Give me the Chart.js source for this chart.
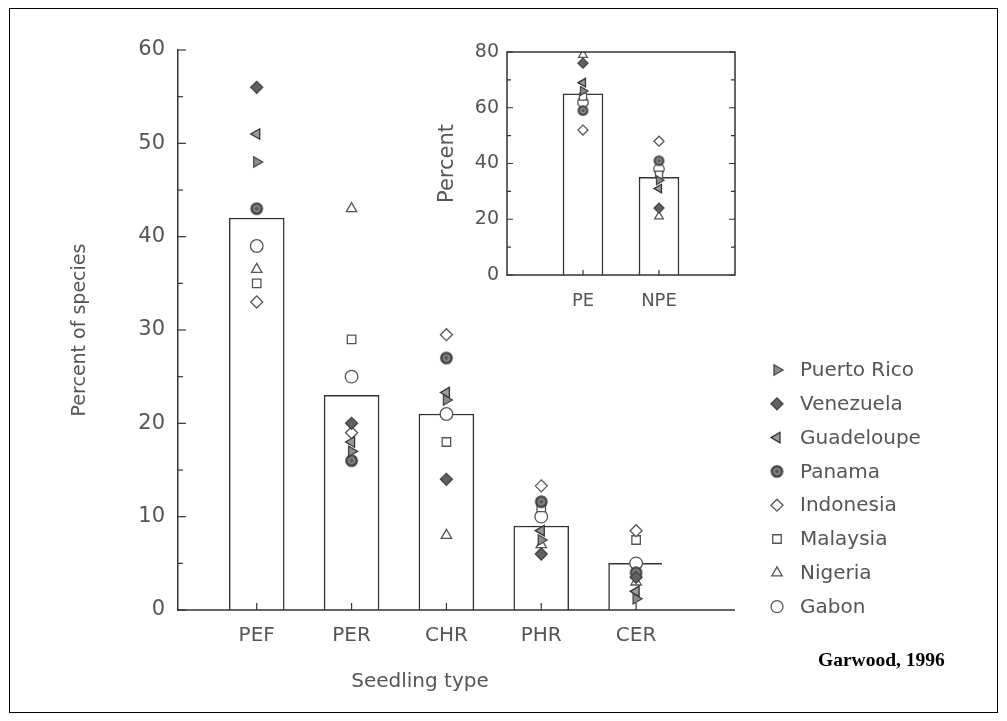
<!doctype html>
<html lang="en">
<head>
<meta charset="utf-8">
<title>Percent of species by seedling type</title>
<style>
  * { margin: 0; padding: 0; }
  body { width: 1007px; height: 721px; background: #fff; position: relative; overflow: hidden; }
  .frame { position: absolute; left: 9px; top: 8px; width: 987px; height: 703px; border: 1.5px solid #000; }
  #mainBox { position: absolute; left: 0; top: 0; width: 1007px; height: 721px; }
  #insetBox { position: absolute; left: 420px; top: 20px; width: 330px; height: 300px; }
  .credit { position: absolute; left: 818px; top: 649px; font: bold 19.5px 'Liberation Serif', serif; color: #000; }
</style>
</head>
<body>
<div class="frame"></div>
<div id="mainBox"><canvas id="mainChart"></canvas></div>
<div id="insetBox"><canvas id="insetChart"></canvas></div>
<div class="credit">Garwood, 1996</div>
<script src="https://cdn.jsdelivr.net/npm/chart.js/dist/chart.umd.min.js"></script>
<script>
// data
const categories = ['PEF', 'PER', 'CHR', 'PHR', 'CER'];
const meanPercent = [42, 23, 21, 9, 5];
const yTicks = [0, 10, 20, 30, 40, 50, 60];

const insetCategories = ['PE', 'NPE'];
const insetMean = [65, 35];
const insetTicks = [0, 20, 40, 60, 80];

const countries = ['Puerto Rico', 'Venezuela', 'Guadeloupe', 'Panama', 'Indonesia', 'Malaysia', 'Nigeria', 'Gabon'];

// PEF, PER, CHR, PHR, CER
const puertoRico = [48, 17, 22.5, 7.5, 1.2];
const venezuela  = [56, 20, 14, 6, 3.5];
const guadeloupe = [51, 18, 23.3, 8.5, 2];
const panama     = [43, 16, 27, 11.6, 4];
const indonesia  = [33, 19, 29.5, 13.3, 8.5];
const malaysia   = [35, 29, 18, 11, 7.5];
const nigeria    = [36.5, 43, 8, 7, 3];
const gabon      = [39, 25, 21, 10, 5];

// PE, NPE
const puertoRicoPE = [66, 34];
const venezuelaPE  = [76, 24];
const guadeloupePE = [69, 31];
const panamaPE     = [59, 41];
const indonesiaPE  = [52, 48];
const malaysiaPE   = [64, 36];
const nigeriaPE    = [79, 21];
const gabonPE      = [62, 38];

const mainSeries = [puertoRico, venezuela, guadeloupe, panama, indonesia, malaysia, nigeria, gabon];
const insetSeries = [puertoRicoPE, venezuelaPE, guadeloupePE, panamaPE, indonesiaPE, malaysiaPE, nigeriaPE, gabonPE];

const FONT = "'DejaVu Sans', sans-serif";
const TEXT = '#555';
const LINE = '#333';
Chart.defaults.font.family = FONT;
Chart.defaults.color = TEXT;

// panama marker: dark disc with a lighter ring inside
function bullseye(r) {
  const c = document.createElement('canvas');
  const s = Math.ceil(r * 2 + 3);
  c.width = s; c.height = s;
  const g = c.getContext('2d');
  g.beginPath();
  g.arc(s / 2, s / 2, r, 0, Math.PI * 2);
  g.fillStyle = '#5a5a5a';
  g.fill();
  g.lineWidth = 1.2;
  g.strokeStyle = '#333';
  g.stroke();
  g.beginPath();
  g.arc(s / 2, s / 2, r * 0.5, 0, Math.PI * 2);
  g.strokeStyle = '#aaa';
  g.lineWidth = 1;
  g.stroke();
  return c;
}

function markerStyles(r) {
  return [
    { pointStyle: 'triangle', rotation: 90, fill: '#8c8c8c', stroke: '#444' },
    { pointStyle: 'rectRot', rotation: 0, fill: '#606060', stroke: '#444' },
    { pointStyle: 'triangle', rotation: -90, fill: '#9a9a9a', stroke: '#333' },
    { pointStyle: bullseye(r * 0.95), rotation: 0, fill: '#5a5a5a', stroke: '#333' },
    { pointStyle: 'rectRot', rotation: 0, fill: '#fff', stroke: '#555' },
    { pointStyle: 'rect', rotation: 0, fill: '#fff', stroke: '#555' },
    { pointStyle: 'triangle', rotation: 0, fill: '#fff', stroke: '#555' },
    { pointStyle: 'circle', rotation: 0, fill: '#fff', stroke: '#555' }
  ];
}

function pointDatasets(series, r) {
  const styles = markerStyles(r);
  return countries.map((name, i) => ({
    type: 'scatter',
    label: name,
    data: series[i].map((v, k) => ({ x: k + 1, y: v })),
    pointStyle: styles[i].pointStyle,
    rotation: styles[i].rotation,
    backgroundColor: styles[i].fill,
    borderColor: styles[i].stroke,
    borderWidth: 1.3,
    pointRadius: styles[i].pointStyle === 'circle' ? r * 1.05 : r,
    order: 0
  }));
}

const mainMarkers = markerStyles(6);

// inward tick marks, extended baseline, legend
const mainDecor = {
  id: 'mainDecor',
  afterDraw(chart) {
    const { ctx, chartArea, scales: { x, y } } = chart;
    ctx.save();
    ctx.strokeStyle = LINE;
    ctx.lineWidth = 1.5;
    ctx.beginPath();
    ctx.moveTo(chartArea.left, chartArea.bottom);
    ctx.lineTo(735, chartArea.bottom);
    ctx.stroke();
    ctx.lineWidth = 1.2;
    for (let v = 0; v <= 60; v += 5) {
      const py = y.getPixelForValue(v);
      ctx.beginPath();
      ctx.moveTo(chartArea.left, py);
      ctx.lineTo(chartArea.left + (v % 10 === 0 ? 8 : 5), py);
      ctx.stroke();
    }
    categories.forEach((c, i) => {
      const px = x.getPixelForValue(i + 1);
      ctx.beginPath();
      ctx.moveTo(px, chartArea.bottom);
      ctx.lineTo(px, chartArea.bottom - 7);
      ctx.stroke();
    });

    // legend
    ctx.font = '20px ' + FONT;
    ctx.textBaseline = 'middle';
    ctx.textAlign = 'left';
    countries.forEach((name, i) => {
      const ly = 370 + i * 33.8;
      const m = mainMarkers[i];
      ctx.fillStyle = m.fill;
      ctx.strokeStyle = m.stroke;
      ctx.lineWidth = 1.3;
      Chart.helpers.drawPoint(ctx, { pointStyle: m.pointStyle, rotation: m.rotation, radius: 6, borderWidth: 1.3 }, 777, ly);
      ctx.fillStyle = TEXT;
      ctx.fillText(name, 800, ly + 1);
    });
    ctx.restore();
  }
};

new Chart(document.getElementById('mainChart'), {
  type: 'bar',
  data: {
    datasets: [
      {
        label: 'Mean',
        data: meanPercent.map((v, i) => ({ x: i + 1, y: v })),
        backgroundColor: '#fff',
        borderColor: LINE,
        borderWidth: 1.5,
        barThickness: 55,
        order: 10
      },
      ...pointDatasets(mainSeries, 6)
    ]
  },
  options: {
    responsive: true,
    maintainAspectRatio: false,
    animation: false,
    layout: { padding: { top: 50, right: 345, left: 0, bottom: 0 } },
    plugins: { legend: { display: false }, tooltip: { enabled: false } },
    scales: {
      x: {
        type: 'linear',
        min: 0.17,
        max: 5.273,
        offset: false,
        grid: { display: false },
        border: { display: false },
        afterBuildTicks: s => { s.ticks = categories.map((c, i) => ({ value: i + 1 })); },
        afterFit: s => { s.height = 111; },
        ticks: {
          callback: v => categories[v - 1],
          autoSkip: false,
          maxRotation: 0,
          padding: 6,
          font: { size: 20 }
        },
        title: { display: true, text: 'Seedling type', font: { size: 20 }, padding: { top: 0, bottom: 27 } }
      },
      y: {
        min: 0,
        max: 60,
        grid: { display: false, drawTicks: false },
        border: { display: true, color: LINE, width: 1.5 },
        afterBuildTicks: s => { s.ticks = yTicks.map(v => ({ value: v })); },
        afterFit: s => { s.width = 178; },
        ticks: { padding: 13, font: { size: 21 } },
        title: { display: true, text: 'Percent of species', font: { size: 19 }, padding: { top: 69, bottom: 0 } }
      }
    }
  },
  plugins: [mainDecor]
});

// inset: framed box with inward ticks on both sides
const insetDecor = {
  id: 'insetDecor',
  afterDraw(chart) {
    const { ctx, chartArea: a, scales: { x, y } } = chart;
    ctx.save();
    ctx.strokeStyle = LINE;
    ctx.lineWidth = 1.5;
    ctx.strokeRect(a.left, a.top, a.right - a.left, a.bottom - a.top);
    ctx.lineWidth = 1.2;
    for (let v = 0; v <= 80; v += 10) {
      const py = y.getPixelForValue(v);
      const len = v % 20 === 0 ? 6 : 4;
      ctx.beginPath();
      ctx.moveTo(a.left, py); ctx.lineTo(a.left + len, py);
      ctx.moveTo(a.right, py); ctx.lineTo(a.right - len, py);
      ctx.stroke();
    }
    insetCategories.forEach((c, i) => {
      const px = x.getPixelForValue(i + 1);
      ctx.beginPath();
      ctx.moveTo(px, a.bottom); ctx.lineTo(px, a.bottom - 5);
      ctx.stroke();
    });
    ctx.restore();
  }
};

new Chart(document.getElementById('insetChart'), {
  type: 'bar',
  data: {
    datasets: [
      {
        label: 'Mean',
        data: insetMean.map((v, i) => ({ x: i + 1, y: v })),
        backgroundColor: '#fff',
        borderColor: LINE,
        borderWidth: 1.5,
        barThickness: 40,
        order: 10
      },
      ...pointDatasets(insetSeries, 5)
    ]
  },
  options: {
    responsive: true,
    maintainAspectRatio: false,
    animation: false,
    layout: { padding: { top: 32, right: 15, left: 0, bottom: 0 } },
    plugins: { legend: { display: false }, tooltip: { enabled: false } },
    scales: {
      x: {
        type: 'linear',
        min: 0,
        max: 3,
        offset: false,
        grid: { display: false },
        border: { display: false },
        afterBuildTicks: s => { s.ticks = insetCategories.map((c, i) => ({ value: i + 1 })); },
        afterFit: s => { s.height = 45; },
        ticks: { callback: v => insetCategories[v - 1], autoSkip: false, maxRotation: 0, padding: 8, font: { size: 18 } }
      },
      y: {
        min: 0,
        max: 80,
        grid: { display: false, drawTicks: false },
        border: { display: false },
        afterBuildTicks: s => { s.ticks = insetTicks.map(v => ({ value: v })); },
        afterFit: s => { s.width = 87; },
        ticks: { padding: 8, font: { size: 19 } },
        title: { display: true, text: 'Percent', font: { size: 21 }, padding: { top: 15, bottom: 0 } }
      }
    }
  },
  plugins: [insetDecor]
});
</script>
</body>
</html>
